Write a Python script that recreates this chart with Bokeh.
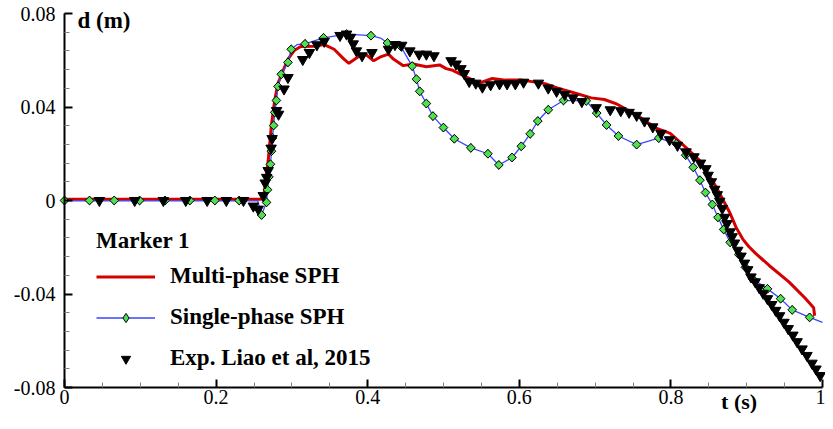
from bokeh.plotting import figure
from bokeh.models import Range1d, FixedTicker, Legend, LegendItem, Label
from bokeh.embed import file_html
from bokeh.resources import INLINE
import math

# ---------------- data ----------------
multi_t = [0.0, 0.2596, 0.2635, 0.2687, 0.2730, 0.2774, 0.2817, 0.2883, 0.2948, 0.3035,
           0.3117, 0.3296, 0.3426, 0.3557, 0.3687, 0.3752, 0.3861, 0.3969, 0.4079, 0.4161,
           0.4274, 0.4339, 0.4469, 0.4600, 0.4774, 0.4948, 0.5035, 0.5122, 0.5295, 0.5469,
           0.5644, 0.5817, 0.6035, 0.6339, 0.6508, 0.6730, 0.6948, 0.7122, 0.7291, 0.7552,
           0.7813, 0.7991, 0.8204, 0.8383, 0.8596, 0.8774, 0.8860, 0.8948, 0.9030, 0.9117,
           0.9296, 0.9557, 0.9769, 0.9883, 0.9896]
multi_d = [0.0005, 0.0005, 0.0033, 0.0170, 0.0323, 0.0431, 0.0502, 0.0555, 0.0605, 0.0643,
           0.0659, 0.0660, 0.0667, 0.0647, 0.0605, 0.0587, 0.0612, 0.0626, 0.0598, 0.0613,
           0.0626, 0.0605, 0.0577, 0.0584, 0.0572, 0.0580, 0.0564, 0.0557, 0.0529, 0.0502,
           0.0522, 0.0515, 0.0515, 0.0500, 0.0481, 0.0460, 0.0439, 0.0432, 0.0412, 0.0365,
           0.0308, 0.0287, 0.0225, 0.0170, 0.0059, -0.0050, -0.0115, -0.0165, -0.0198, -0.0226,
           -0.0278, -0.0348, -0.0417, -0.0459, -0.0493]

single_t = [0.0, 0.2305, 0.2550, 0.2600, 0.2665, 0.2678, 0.2696, 0.2717, 0.2730, 0.2743,
            0.2759, 0.2774, 0.2795, 0.2817, 0.2860, 0.2948, 0.2991, 0.3070, 0.3173, 0.3417,
            0.3721, 0.4043, 0.4170, 0.4261, 0.4435, 0.4587, 0.4643, 0.4686, 0.4774, 0.4861,
            0.4999, 0.5143, 0.5361, 0.5586, 0.5730, 0.5904, 0.6026, 0.6143, 0.6244, 0.6382,
            0.6583, 0.6883, 0.7021, 0.7151, 0.7308, 0.7548, 0.7839, 0.8070, 0.8195, 0.8295,
            0.8383, 0.8456, 0.8547, 0.8621, 0.8696, 0.8782, 0.8895, 0.8983, 0.9078, 0.9274,
            0.9447, 0.9600, 0.9830, 1.0]
single_d = [-0.0002, -0.0002, -0.0002, -0.0062, -0.0008, 0.0046, 0.0101, 0.0155, 0.0211, 0.0267,
            0.0321, 0.0377, 0.0428, 0.0488, 0.0540, 0.0591, 0.0647, 0.0667, 0.0670, 0.0696,
            0.0712, 0.0705, 0.0695, 0.0674, 0.0660, 0.0575, 0.0519, 0.0467, 0.0415, 0.0361,
            0.0312, 0.0264, 0.0225, 0.0200, 0.0152, 0.0184, 0.0232, 0.0285, 0.0340, 0.0388,
            0.0428, 0.0426, 0.0374, 0.0323, 0.0276, 0.0239, 0.0267, 0.0243, 0.0194, 0.0142,
            0.0087, 0.0034, -0.0017, -0.0072, -0.0124, -0.0179, -0.0231, -0.0286, -0.0335, -0.0378,
            -0.0420, -0.0468, -0.0500, -0.0521]

single_mark_t = [0.0, 0.0330, 0.0656, 0.0991, 0.1326, 0.1653, 0.1983, 0.2305,
                 0.2600, 0.2665, 0.2678, 0.2696, 0.2717, 0.2730, 0.2743, 0.2759, 0.2774, 0.2795,
                 0.2817, 0.2860, 0.2948, 0.2991, 0.3173, 0.3417, 0.3721, 0.4043, 0.4261, 0.4435,
                 0.4587, 0.4643, 0.4686, 0.4774, 0.4861, 0.4999, 0.5143, 0.5361, 0.5586, 0.5730,
                 0.5904, 0.6026, 0.6143, 0.6244, 0.6382, 0.6583, 0.6883, 0.7021, 0.7151, 0.7308,
                 0.7548, 0.7839, 0.8070, 0.8195, 0.8295, 0.8383, 0.8456, 0.8547, 0.8621, 0.8696,
                 0.8782, 0.8895, 0.8983, 0.9078, 0.9274, 0.9447, 0.9600, 0.9830]
single_mark_d = [0.0, 0.0, 0.0, 0.0, 0.0, 0.0, 0.0, 0.0,
                 -0.0062, -0.0008, 0.0046, 0.0101, 0.0155, 0.0211, 0.0267, 0.0321, 0.0377, 0.0428,
                 0.0488, 0.0540, 0.0591, 0.0647, 0.0670, 0.0696, 0.0712, 0.0705, 0.0674, 0.0660,
                 0.0575, 0.0519, 0.0467, 0.0415, 0.0361, 0.0312, 0.0264, 0.0225, 0.0200, 0.0152,
                 0.0184, 0.0232, 0.0285, 0.0340, 0.0388, 0.0428, 0.0426, 0.0374, 0.0323, 0.0276,
                 0.0239, 0.0267, 0.0243, 0.0194, 0.0142, 0.0087, 0.0034, -0.0017, -0.0072, -0.0124,
                 -0.0179, -0.0231, -0.0286, -0.0335, -0.0378, -0.0420, -0.0468, -0.0500]

exp_t = [0.0460, 0.0926, 0.1304, 0.1600, 0.1882, 0.2135, 0.2361, 0.2491, 0.2556,
         0.2622, 0.2648, 0.2667, 0.2687, 0.2726, 0.2739, 0.2798, 0.2824, 0.2896, 0.2948,
         0.3143, 0.3231, 0.3330, 0.3426, 0.3635, 0.3721, 0.3773, 0.3809, 0.3852, 0.3926,
         0.4056, 0.4274, 0.4360, 0.4448, 0.4556, 0.4678, 0.4774, 0.4874,
         0.5100, 0.5165, 0.5230, 0.5273, 0.5339, 0.5426, 0.5513, 0.5622, 0.5739, 0.5839, 0.5948,
         0.6056, 0.6252, 0.6382, 0.6492, 0.6600, 0.6708, 0.6825,
         0.7013, 0.7200, 0.7339, 0.7448, 0.7548, 0.7652, 0.7761, 0.7869, 0.7982,
         0.8087, 0.8200, 0.8304, 0.8391, 0.8461, 0.8491, 0.8534, 0.8578, 0.8612, 0.8644,
         0.8678, 0.8709, 0.8739, 0.8782, 0.8808, 0.8839, 0.8882, 0.8925, 0.8970,
         0.9013, 0.9056, 0.9113, 0.9165, 0.9217, 0.9274, 0.9330, 0.9382, 0.9434, 0.9491,
         0.9547, 0.9609, 0.9665, 0.9730, 0.9795, 0.9861, 0.9913, 0.9969]
exp_d = [0.0, 0.0, 0.0, 0.0, 0.0, 0.0, 0.0, -0.0024, -0.0037,
         0.0021, 0.0075, 0.0099, 0.0128, 0.0224, 0.0265, 0.0385, 0.0369, 0.0477, 0.0526,
         0.0603, 0.0633, 0.0666, 0.0681, 0.0706, 0.0712, 0.0698, 0.0670, 0.0640, 0.0619,
         0.0633, 0.0647, 0.0667, 0.0664, 0.0640, 0.0626, 0.0626, 0.0619,
         0.0598, 0.0584, 0.0564, 0.0543, 0.0509, 0.0502, 0.0485, 0.0495, 0.0499, 0.0499, 0.0499,
         0.0506, 0.0502, 0.0481, 0.0467, 0.0453, 0.0439, 0.0423,
         0.0397, 0.0388, 0.0384, 0.0377, 0.0364, 0.0340, 0.0315, 0.0287, 0.0260,
         0.0236, 0.0208, 0.0187, 0.0160, 0.0136, 0.0108, 0.0080, 0.0048, 0.0025, -0.0003,
         -0.0034, -0.0072, -0.0099, -0.0134, -0.0155, -0.0182, -0.0213, -0.0238, -0.0268,
         -0.0296, -0.0327, -0.0348, -0.0373, -0.0397, -0.0420, -0.0445, -0.0470, -0.0493,
         -0.0521, -0.0548, -0.0576, -0.0604, -0.0635, -0.0663, -0.0696, -0.0721, -0.0749]

x_ticks = [0.0, 0.2, 0.4, 0.6, 0.8, 1.0]
x_tick_labels = ["0", "0.2", "0.4", "0.6", "0.8", "1"]
x_minor = [0.05, 0.1, 0.15, 0.25, 0.3, 0.35, 0.45, 0.5, 0.55, 0.65, 0.7, 0.75, 0.85, 0.9, 0.95]
y_ticks = [-0.08, -0.04, 0.0, 0.04, 0.08]
y_tick_labels = ["-0.08", "-0.04", "0", "0.04", "0.08"]
y_minor = [-0.072, -0.064, -0.056, -0.048, -0.032, -0.024, -0.016, -0.008,
           0.008, 0.016, 0.024, 0.032, 0.048, 0.056, 0.064, 0.072]
x_axis_min, x_axis_max = 0.0, 1.0
y_axis_min, y_axis_max = -0.08, 0.08

series_labels = ["Multi-phase SPH", "Single-phase SPH", "Exp. Liao et al, 2015"]
legend_title = "Marker 1"
x_title = "t (s)"
y_title = "d (m)"

SERIF = "Liberation Serif"

# ---------------- figure ----------------
# The frame fills the whole canvas; both axes float inside it (fixed_location),
# limited to their data extent with `bounds`, so tick labels are never cut.
W, H = 825, 413
AX_L, AX_R, AX_T, AX_B = 64, 822, 13, 387          # axis box in canvas pixels
sx = (x_axis_max - x_axis_min) / (AX_R - AX_L)
sy = (y_axis_max - y_axis_min) / (AX_B - AX_T)
x_range = Range1d(x_axis_min - AX_L * sx, x_axis_max + (W - AX_R) * sx)
y_range = Range1d(y_axis_min - (H - AX_B) * sy, y_axis_max + AX_T * sy)

p = figure(width=W, height=H, output_backend="svg", toolbar_location=None,
           x_range=x_range, y_range=y_range,
           min_border_left=0, min_border_right=0, min_border_top=0, min_border_bottom=0)
p.outline_line_color = None
p.xgrid.visible = False
p.ygrid.visible = False
p.background_fill_color = "white"
p.border_fill_color = "white"

r_red = p.line(multi_t, multi_d, line_color="#d40000", line_width=3)
r_blue = p.line(single_t, single_d, line_color="#3a46ff", line_width=1.3)
# diamond used for the legend swatch (hidden underneath the rotated squares in the plot)
r_diam_leg = p.scatter(single_mark_t, single_mark_d, marker="diamond", size=8.5,
                       fill_color="#4fe04f", line_color="black", line_width=1)
r_diam = p.scatter(single_mark_t, single_mark_d, marker="square", angle=math.pi / 4, size=6.2,
                   fill_color="#4fe04f", line_color="black", line_width=1)
r_exp = p.scatter(exp_t, exp_d, marker="inverted_triangle", size=10.5,
                  fill_color="black", line_color="black")

for ax, ticks, minor, labels in ((p.xaxis[0], x_ticks, x_minor, x_tick_labels),
                                 (p.yaxis[0], y_ticks, y_minor, y_tick_labels)):
    ax.ticker = FixedTicker(ticks=ticks, minor_ticks=minor)
    ax.major_label_overrides = dict(zip(ticks, labels))
    ax.axis_line_width = 2
    ax.axis_line_color = "black"
    ax.major_tick_in = 8
    ax.major_tick_out = 0
    ax.major_tick_line_width = 2
    ax.minor_tick_in = 5
    ax.minor_tick_out = 0
    ax.minor_tick_line_color = "#808080"
    ax.minor_tick_line_width = 1
    ax.major_label_text_font = SERIF
    ax.major_label_text_font_size = "20px"
    ax.major_label_text_color = "black"

p.xaxis[0].fixed_location = y_axis_min
p.xaxis[0].bounds = (x_axis_min, x_axis_max)
p.yaxis[0].fixed_location = x_axis_min
p.yaxis[0].bounds = (y_axis_min, y_axis_max)
p.yaxis[0].major_label_standoff = 9
p.xaxis[0].major_label_standoff = 2

legend = Legend(items=[
    LegendItem(label=series_labels[0], renderers=[r_red]),
    LegendItem(label=series_labels[1], renderers=[r_blue, r_diam_leg]),
    LegendItem(label=series_labels[2], renderers=[r_exp]),
], title=legend_title, location=(96, 35))
legend.title_text_font = SERIF
legend.title_text_font_size = "23px"
legend.title_text_font_style = "bold"
legend.title_text_color = "black"
legend.title_standoff = 2
legend.label_text_font = SERIF
legend.label_text_font_size = "23px"
legend.label_text_font_style = "bold"
legend.label_text_color = "black"
legend.glyph_width = 59
legend.glyph_height = 23
legend.label_height = 40
legend.label_standoff = 15
legend.spacing = 1
legend.padding = 0
legend.margin = 0
legend.border_line_color = None
legend.background_fill_alpha = 0
p.add_layout(legend)

p.add_layout(Label(x=x_axis_min, y=y_axis_max, x_offset=13, y_offset=-7, text=y_title,
                   text_font=SERIF, text_font_size="23px", text_font_style="bold",
                   text_color="black", text_baseline="middle", text_align="left"))
p.add_layout(Label(x=0.89, y=y_axis_min, y_offset=-14, text=x_title,
                   text_font=SERIF, text_font_size="22px", text_font_style="bold",
                   text_color="black", text_baseline="middle", text_align="center"))

open("out.html", "w").write(file_html(p, INLINE))
